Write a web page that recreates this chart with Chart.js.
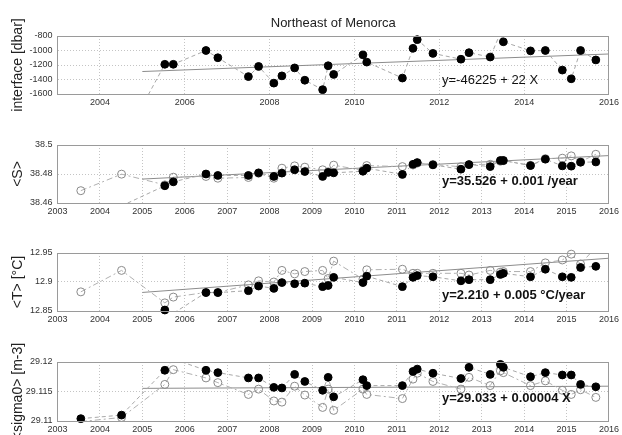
<!DOCTYPE html>
<html><head><meta charset="utf-8">
<script src="https://cdn.jsdelivr.net/npm/chart.js@4"></script>
<style>
html,body{margin:0;padding:0;background:#fff;}
#wrap{position:relative;width:622px;height:435px;overflow:hidden;background:#fff;}
canvas{position:absolute;left:0;top:0;}
</style></head><body>
<div id="wrap">
<canvas id="c1" width="622" height="435"></canvas>
<canvas id="c2" width="622" height="435"></canvas>
<canvas id="c3" width="622" height="435"></canvas>
<canvas id="c4" width="622" height="435"></canvas>
</div>
<script>
// ---- data ----
const dates = [2003.55, 2004.51, 2005.53, 2005.73, 2006.5, 2006.78, 2007.5, 2007.74, 2008.1, 2008.29, 2008.59, 2008.83, 2009.25, 2009.38, 2009.51, 2010.2, 2010.29, 2011.13, 2011.38, 2011.48, 2011.85, 2012.51, 2012.7, 2013.2, 2013.44, 2013.51, 2014.15, 2014.5, 2014.9, 2015.11, 2015.33, 2015.69];

const interfaceFilled = [null, -2290, -1190, -1190, -1000, -1100, -1360, -1220, -1450, -1350, -1240, -1410, -1540, -1210, -1330, -1060, -1160, -1380, -970, -850, -1040, -1120, -1030, -1090, -760, -880, -1005, -1000, -1270, -1390, -1000, -1130];

const salFilled = [38.45, 38.458, 38.4719, 38.4746, 38.480, 38.479, 38.479, 38.4808, 38.4783, 38.4806, 38.4829, 38.4817, 38.4783, 38.4811, 38.4808, 38.4819, 38.484, 38.4797, 38.4867, 38.4879, 38.4863, 38.4833, 38.4865, 38.4851, 38.4893, 38.4893, 38.4858, 38.4902, 38.4856, 38.4854, 38.4881, 38.4883];
const salOpen = [38.4685, 38.4799, 38.4725, 38.4778, 38.4783, 38.4771, 38.4776, 38.4805, 38.4771, 38.484, 38.4856, 38.4847, 38.4829, 38.4815, 38.4861, 38.4825, 38.4858, 38.4851, 38.4862, 38.4875, 38.4866, 38.485, 38.4865, 38.4867, 38.4888, 38.4892, 38.486, 38.4906, 38.4909, 38.4925, 38.4885, 38.4936];

const tempFilled = [12.83, 12.82, 12.8517, 12.846, 12.8818, 12.8818, 12.885, 12.893, 12.889, 12.899, 12.897, 12.898, 12.892, 12.894, 12.908, 12.899, 12.910, 12.892, 12.908, 12.911, 12.909, 12.902, 12.904, 12.904, 12.913, 12.915, 12.909, 12.922, 12.909, 12.908, 12.925, 12.927];
const tempOpen = [12.883, 12.920, 12.864, 12.874, 12.882, 12.882, 12.895, 12.902, 12.9, 12.92, 12.914, 12.918, 12.920, 12.906, 12.936, 12.905, 12.921, 12.922, 12.915, 12.915, 12.915, 12.915, 12.912, 12.920, 12.917, 12.918, 12.918, 12.933, 12.938, 12.948, 12.931, 12.96];

const sigFilled = [29.1104, 29.1110, 29.1186, 29.1205, 29.1186, 29.1182, 29.1173, 29.1173, 29.1157, 29.1156, 29.1179, 29.1167, 29.1152, 29.1174, 29.1141, 29.1170, 29.1160, 29.1160, 29.1184, 29.1188, 29.1181, 29.1172, 29.1191, 29.1179, 29.1196, 29.1191, 29.1175, 29.1182, 29.1178, 29.1178, 29.1162, 29.1158];
const sigOpen = [29.1099, 29.1106, 29.1162, 29.1187, 29.1173, 29.1165, 29.1145, 29.1154, 29.1134, 29.1132, 29.1159, 29.1144, 29.1123, 29.1154, 29.1118, 29.1154, 29.1145, 29.1138, 29.1171, 29.1181, 29.1167, 29.1154, 29.1174, 29.1160, 29.1185, 29.1182, 29.1160, 29.1168, 29.1152, 29.1145, 29.1153, 29.1140];

const trendX = [2005, 2016];
const interfaceTrend = [-1290, -1048];
const salTrend = [38.4765, 38.4927];
const tempTrend = [12.882, 12.941];
const sigTrend = [29.11553, 29.1159];

const xTicksTop = [2004, 2006, 2008, 2010, 2012, 2014, 2016];
const xTicksAll = [2003, 2004, 2005, 2006, 2007, 2008, 2009, 2010, 2011, 2012, 2013, 2014, 2015, 2016];

const yTicks1 = [-1600, -1400, -1200, -1000, -800];
const yLabels1 = ['-1600', '-1400', '-1200', '-1000', '-800'];
const yTicks2 = [38.46, 38.48, 38.5];
const yLabels2 = ['38.46', '38.48', '38.5'];
const yTicks3 = [12.85, 12.9, 12.95];
const yLabels3 = ['12.85', '12.9', '12.95'];
const yTicks4 = [29.11, 29.115, 29.12];
const yLabels4 = ['29.11', '29.115', '29.12'];

const titleText = 'Northeast of Menorca';
const yTitles = ['interface [dbar]', '<S>', '<T> [°C]', '<sigma0> [m-3]'];
const fitTexts = ['y=-46225 + 22 X', 'y=35.526 + 0.001 /year', 'y=2.210 + 0.005 °C/year', 'y=29.033 + 0.00004 X'];

// ---- layout / style ----
const FONT = "'Liberation Sans', Arial, Helvetica, sans-serif";
const W = 622, H = 435, LEFT = 57.5, RIGHT = 612.5, XH = 14;

function toPts(ys) { return dates.map((x, i) => ({x: x, y: ys[i]})); }

function makePanel(id, p) {
  const inRange = v => v != null && v >= p.yMin - 1e-9 && v <= p.yMax + 1e-9;
  const ds = [];
  ds.push({data: toPts(p.filled), showLine: false, clip: false,
    pointRadius: c => inRange(c.raw && c.raw.y) ? 3.9 : 0,
    pointBackgroundColor: '#000', pointBorderColor: '#000', pointBorderWidth: 1});
  if (p.open) {
    ds.push({data: toPts(p.open), showLine: false, clip: false,
      pointRadius: c => inRange(c.raw && c.raw.y) ? 4 : 0,
      pointBackgroundColor: 'rgba(255,255,255,0)', pointBorderColor: '#8a8a8a', pointBorderWidth: 1});
  }
  ds.push({data: toPts(p.filled), showLine: true, pointRadius: 0, clip: 0,
    borderColor: '#a8a8a8', borderWidth: 1, borderDash: [4, 3], spanGaps: false});
  if (p.open) {
    ds.push({data: toPts(p.open), showLine: true, pointRadius: 0, clip: 0,
      borderColor: '#b0b0b0', borderWidth: 1, borderDash: [6, 3, 2, 3], spanGaps: false});
  }
  ds.push({data: trendX.map((x, i) => ({x: x, y: p.trend[i]})), showLine: true, pointRadius: 0, clip: 0,
    borderColor: '#8c8c8c', borderWidth: 1});

  const extras = {
    id: 'extras' + id,
    afterDatasetsDraw(chart) {
      const a = chart.chartArea, ctx = chart.ctx;
      ctx.save();
      ctx.strokeStyle = '#9a9a9a';
      ctx.lineWidth = 1;
      const l = Math.floor(a.left) + 0.5, t = Math.floor(a.top) + 0.5;
      const r = Math.floor(a.right) + 0.5, b = Math.floor(a.bottom) + 0.5;
      ctx.strokeRect(l, t, r - l, b - t);
      ctx.fillStyle = '#111';
      ctx.textBaseline = 'middle';
      ctx.textAlign = 'left';
      ctx.font = (p.bold ? 'bold ' : '') + '13px ' + FONT;
      ctx.fillText(p.fit, 442, p.fitY);
      if (p.title) {
        ctx.textAlign = 'center';
        ctx.font = '13px ' + FONT;
        ctx.fillStyle = '#222';
        ctx.fillText(p.title, (a.left + a.right) / 2, 23);
      }
      ctx.restore();
    }
  };

  return new Chart(document.getElementById(id), {
    type: 'line',
    data: {datasets: ds},
    options: {
      responsive: false, animation: false, devicePixelRatio: 1, events: [],
      layout: {autoPadding: false, padding: {top: p.top, bottom: H - p.bottom - XH, left: 0, right: W - RIGHT}},
      plugins: {legend: {display: false}, tooltip: {enabled: false}},
      scales: {
        x: {type: 'linear', min: 2003, max: 2016,
          afterBuildTicks: s => { s.ticks = p.xTicks.map(v => ({value: v})); },
          afterFit: s => { s.height = XH; },
          ticks: {callback: v => String(v), font: {family: FONT, size: 9}, color: '#333', padding: 3, maxRotation: 0, autoSkip: false},
          grid: {color: '#c4c4c4', lineWidth: 1, drawTicks: false},
          border: {display: true, color: '#9a9a9a', dash: [1, 2]}
        },
        y: {type: 'linear', min: p.yMin, max: p.yMax,
          afterBuildTicks: s => { s.ticks = p.yTicks.map(v => ({value: v})); },
          afterFit: s => { s.width = LEFT; },
          ticks: {callback: (v, i) => p.yLabels[i], font: {family: FONT, size: 9}, color: '#333', padding: 5, autoSkip: false},
          grid: {color: '#c4c4c4', lineWidth: 1, drawTicks: false},
          border: {display: true, color: '#9a9a9a', dash: [1, 2]},
          title: {display: true, text: p.yTitle, font: {family: FONT, size: 14}, color: '#222', padding: {top: 10, bottom: 0}}
        }
      }
    },
    plugins: [extras]
  });
}

makePanel('c1', {top: 36, bottom: 94, yMin: -1600, yMax: -800, yTicks: yTicks1, yLabels: yLabels1, xTicks: xTicksTop,
  filled: interfaceFilled, open: null, trend: interfaceTrend, yTitle: yTitles[0], fit: fitTexts[0], fitY: 80, bold: false, title: titleText});
makePanel('c2', {top: 145, bottom: 203, yMin: 38.46, yMax: 38.5, yTicks: yTicks2, yLabels: yLabels2, xTicks: xTicksAll,
  filled: salFilled, open: salOpen, trend: salTrend, yTitle: yTitles[1], fit: fitTexts[1], fitY: 181.5, bold: true});
makePanel('c3', {top: 253, bottom: 311, yMin: 12.85, yMax: 12.95, yTicks: yTicks3, yLabels: yLabels3, xTicks: xTicksAll,
  filled: tempFilled, open: tempOpen, trend: tempTrend, yTitle: yTitles[2], fit: fitTexts[2], fitY: 295, bold: true});
makePanel('c4', {top: 362, bottom: 421, yMin: 29.11, yMax: 29.12, yTicks: yTicks4, yLabels: yLabels4, xTicks: xTicksAll,
  filled: sigFilled, open: sigOpen, trend: sigTrend, yTitle: yTitles[3], fit: fitTexts[3], fitY: 398.5, bold: true});
</script>
</body></html>
